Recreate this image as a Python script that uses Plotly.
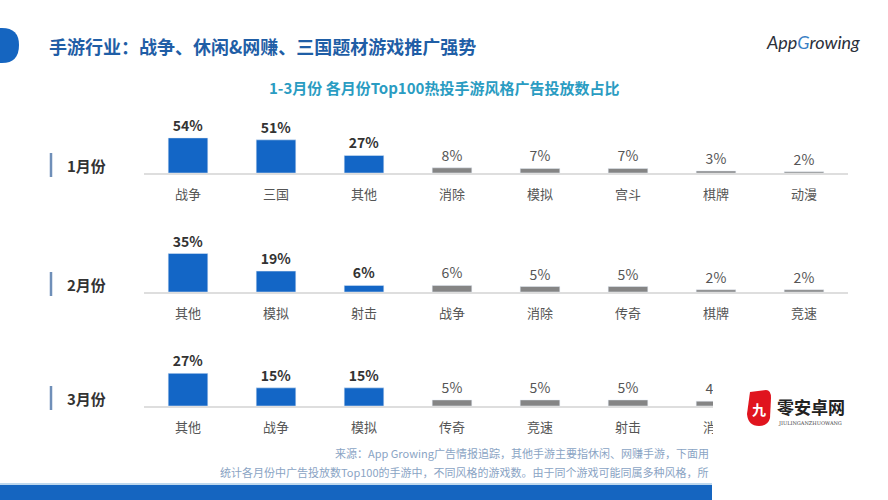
import plotly.graph_objects as go
from plotly.subplots import make_subplots

W, H = 888, 500

# data
months = ['1月份', '2月份', '3月份']
cats_jan = ['战争', '三国', '其他', '消除', '模拟', '宫斗', '棋牌', '动漫']
vals_jan = [54, 51, 27, 8, 7, 7, 3, 2]
cats_feb = ['其他', '模拟', '射击', '战争', '消除', '传奇', '棋牌', '竞速']
vals_feb = [35, 19, 6, 6, 5, 5, 2, 2]
cats_mar = ['其他', '战争', '模拟', '传奇', '竞速', '射击', '消除']
vals_mar = [27, 15, 15, 5, 5, 5, 4]

title_main = '手游行业：战争、休闲&网赚、三国题材游戏推广强势'
title_sub = '1-3月份 各月份Top100热投手游风格广告投放数占比'
note_1 = '来源：App Growing广告情报追踪，其他手游主要指休闲、网赚手游，下面用'
note_2 = '统计各月份中广告投放数Top100的手游中，不同风格的游戏数。由于同个游戏可能同属多种风格，所'

BLUE = '#1366c6'
GRAY = '#858585'
FONT = 'Noto Sans CJK SC'


def px(x):
    return x / W


def py(y):
    return 1 - y / H


def add_text(fig, text, x, y, size, color, anchor='center', family=FONT):
    fig.add_annotation(
        text=text, xref='paper', yref='paper', x=px(x), y=py(y),
        xanchor=anchor, yanchor='middle', showarrow=False,
        font=dict(family=family, size=size, color=color)
    )


# baseline pixel y and pixels per percent for each row
rows = [
    (cats_jan, vals_jan, 173, 0.65),
    (cats_feb, vals_feb, 292, 1.10),
    (cats_mar, vals_mar, 406, 1.21),
]
panel_h = 50

fig = make_subplots(rows=3, cols=1)

for i, (cats, vals, base, scale) in enumerate(rows):
    r = i + 1
    colors = [BLUE if k < 3 else GRAY for k in range(len(vals))]
    texts = [f'<b>{v}%</b>' if k < 3 else f'{v}%' for k, v in enumerate(vals)]
    tcolors = ['#333333' if k < 3 else '#555555' for k in range(len(vals))]
    fig.add_trace(
        go.Bar(
            x=list(range(len(vals))),
            y=vals,
            width=0.45,
            marker_color=colors,
            text=texts,
            textposition='outside',
            textfont=dict(family=FONT, size=14, color=tcolors),
            cliponaxis=False,
            showlegend=False,
            hoverinfo='skip'
        ),
        row=r, col=1
    )

    xname = 'xaxis' if r == 1 else f'xaxis{r}'
    yname = 'yaxis' if r == 1 else f'yaxis{r}'
    fig.layout[xname].update(
        domain=[px(144), px(848)],
        range=[-0.5, 7.5],
        tickmode='array',
        tickvals=list(range(len(cats))),
        ticktext=cats,
        tickfont=dict(family=FONT, size=13, color='#555555'),
        ticklabelstandoff=9,
        showgrid=False,
        zeroline=False,
        showline=True,
        linecolor='#dedede',
        linewidth=1.5,
        ticks=''
    )
    fig.layout[yname].update(
        domain=[py(base), py(base - panel_h)],
        range=[0, panel_h / scale],
        visible=False
    )

    # month label with vertical marker
    fig.add_shape(
        type='line', xref='paper', yref='paper',
        x0=px(51), x1=px(51), y0=py(base - 20), y1=py(base + 4),
        line=dict(color='#6f8fb8', width=2.5)
    )
    add_text(fig, f'<b>{months[i]}</b>', 65, base - 8, 15, '#333333', anchor='left')

# header pill
fig.add_shape(
    type='path', xref='paper', yref='paper',
    path=f'M 0 {py(28)} L {px(2)} {py(28)} Q {px(19)} {py(28)} {px(19)} {py(45)} '
         f'Q {px(19)} {py(63)} {px(2)} {py(63)} L 0 {py(63)} Z',
    fillcolor='#1565c0', line=dict(width=0)
)

add_text(fig, f'<b>{title_main}</b>', 47, 46, 18, '#1f5ea6', anchor='left')
add_text(fig, f'<b>{title_sub}</b>', 444, 88, 15, '#2a9cc2')
add_text(fig, '<i>App</i><i><span style="color:#3a7fc4">G</span>rowing</i>',
         813, 42, 18, '#2b2f3a', family='Lato')

# footnotes
add_text(fig, note_1, 711, 453, 11, '#8aa4c4', anchor='right')
add_text(fig, note_2, 711, 472, 11, '#8aa4c4', anchor='right')

# bottom band
fig.add_shape(
    type='rect', xref='paper', yref='paper',
    x0=0, x1=px(712), y0=0, y1=py(485),
    fillcolor='#1565c0', line=dict(width=0), layer='above'
)
fig.add_shape(
    type='line', xref='paper', yref='paper',
    x0=0, x1=px(712), y0=py(484), y1=py(484),
    line=dict(color='#a9cbe8', width=1.5), layer='above'
)

# white watermark box on the lower right
fig.add_shape(
    type='rect', xref='paper', yref='paper',
    x0=px(713), x1=1, y0=0, y1=py(374),
    fillcolor='white', line=dict(width=0), layer='above'
)
fig.add_shape(
    type='path', xref='paper', yref='paper',
    path=f'M {px(750)} {py(392)} L {px(766)} {py(390)} Q {px(771)} {py(390)} {px(771)} {py(398)} '
         f'L {px(770)} {py(418)} Q {px(768)} {py(426)} {px(759)} {py(426)} '
         f'Q {px(748)} {py(426)} {px(747)} {py(414)} Z',
    fillcolor='#e0141e', line=dict(width=0), layer='above'
)
add_text(fig, '<b>九</b>', 759, 409, 14, 'white')
add_text(fig, '<b>零安卓网</b>', 775, 406, 17, '#222222', anchor='left')
add_text(fig, 'JIULINGANZHUOWANG', 776, 423, 5, '#444444', anchor='left', family='DejaVu Serif')

fig.update_layout(
    width=W, height=H,
    margin=dict(l=0, r=0, t=0, b=0),
    paper_bgcolor='white',
    plot_bgcolor='rgba(0,0,0,0)',
    bargap=0.5
)

# drop the default page margin so the figure sits at the window's corner
fig.write_html("out.html", config={'displayModeBar': False},
               post_script="document.body.style.margin='0';")
